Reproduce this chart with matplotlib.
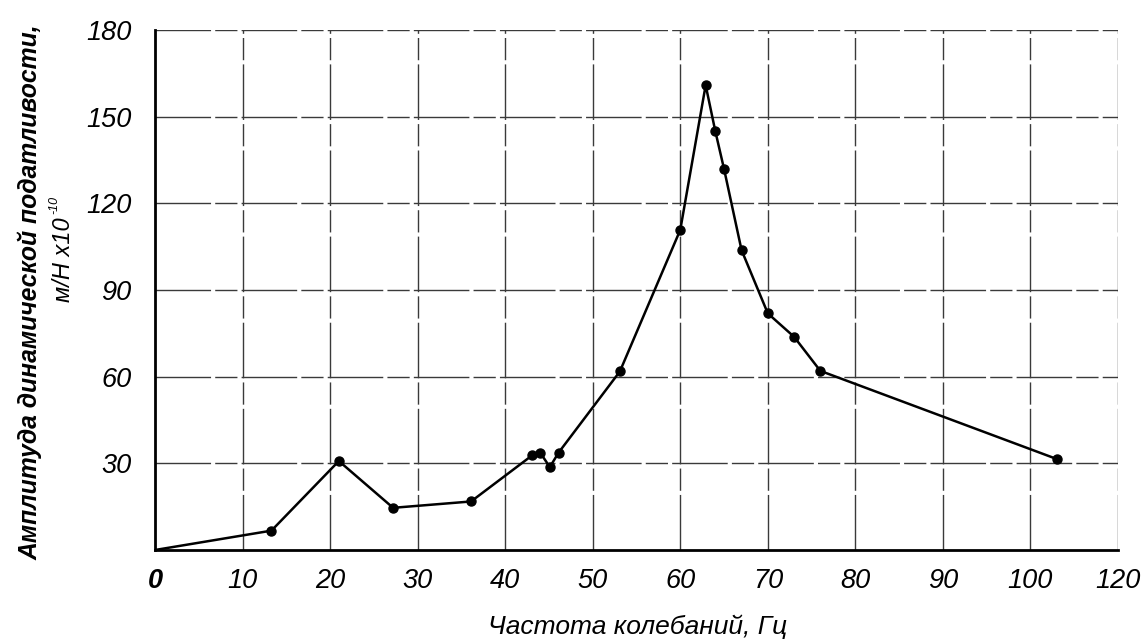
import matplotlib.pyplot as plt

plt.rcParams['font.family'] = ['Liberation Sans', 'DejaVu Sans']

# frequency, Hz and compliance amplitude, m/N x1e-10
freq = [0, 13.3, 21, 27.2, 36.1, 43.1, 44, 45.1, 46.1, 53.1, 60, 62.9, 64, 65, 67, 70, 73, 76, 103]
ampl = [0, 6.7, 30.8, 14.6, 16.8, 32.8, 33.7, 28.7, 33.7, 61.8, 110.8, 160.9, 145, 131.9, 103.8, 81.9, 73.8, 62, 31.5]

x_ticks = [0, 10, 20, 30, 40, 50, 60, 70, 80, 90, 100, 110]
x_labels = ['0', '10', '20', '30', '40', '50', '60', '70', '80', '90', '100', '120']
y_ticks = [30, 60, 90, 120, 150, 180]

fig = plt.figure(figsize=(11.46, 6.44), dpi=100)
ax = fig.add_axes([155/1146, 94/644, 963/1146, 520/644])

ax.plot(freq, ampl, color='black', lw=1.8, zorder=3)
ax.plot(freq[1:], ampl[1:], 'o', color='black', ms=6.5, zorder=4)

ax.set_xlim(0, 110)
ax.set_ylim(0, 180)

# scanned-looking grid: long dashes with short breaks
grid_style = dict(color='#3a3a3a', lw=1.0, ls=(0, (40, 3, 16, 3)), zorder=1)
for x in x_ticks[1:]:
    ax.axvline(x, **grid_style)
for y in y_ticks:
    ax.axhline(y, **grid_style)

for s in ['top', 'right']:
    ax.spines[s].set_visible(False)
for s in ['left', 'bottom']:
    ax.spines[s].set_linewidth(2)
    ax.spines[s].set_color('black')

ax.set_xticks(x_ticks)
ax.set_xticklabels(x_labels, fontsize=19.5, style='italic')
ax.get_xticklabels()[0].set_fontweight('bold')
ax.set_yticks(y_ticks)
ax.set_yticklabels([str(v) for v in y_ticks], fontsize=19.5, style='italic')
ax.tick_params(length=0)
ax.tick_params(axis='x', pad=13)
ax.tick_params(axis='y', pad=17)

fig.text(638/1146, 1 - 627/644, 'Частота колебаний, Гц', fontsize=19, style='italic',
         ha='center', va='center')
fig.text(30/1146, 1 - 292/644, 'Амплитуда динамической податливости,', fontsize=17.8,
         style='italic', fontweight='bold', rotation=90, ha='center', va='center')
fig.text(63/1146, 1 - 260/644, 'м/Н x10', fontsize=17, style='italic',
         rotation=90, ha='center', va='center')
fig.text(54/1146, 1 - 205/644, '-10', fontsize=9, style='italic',
         rotation=90, ha='center', va='center')

fig.savefig('out.png', dpi=100)
